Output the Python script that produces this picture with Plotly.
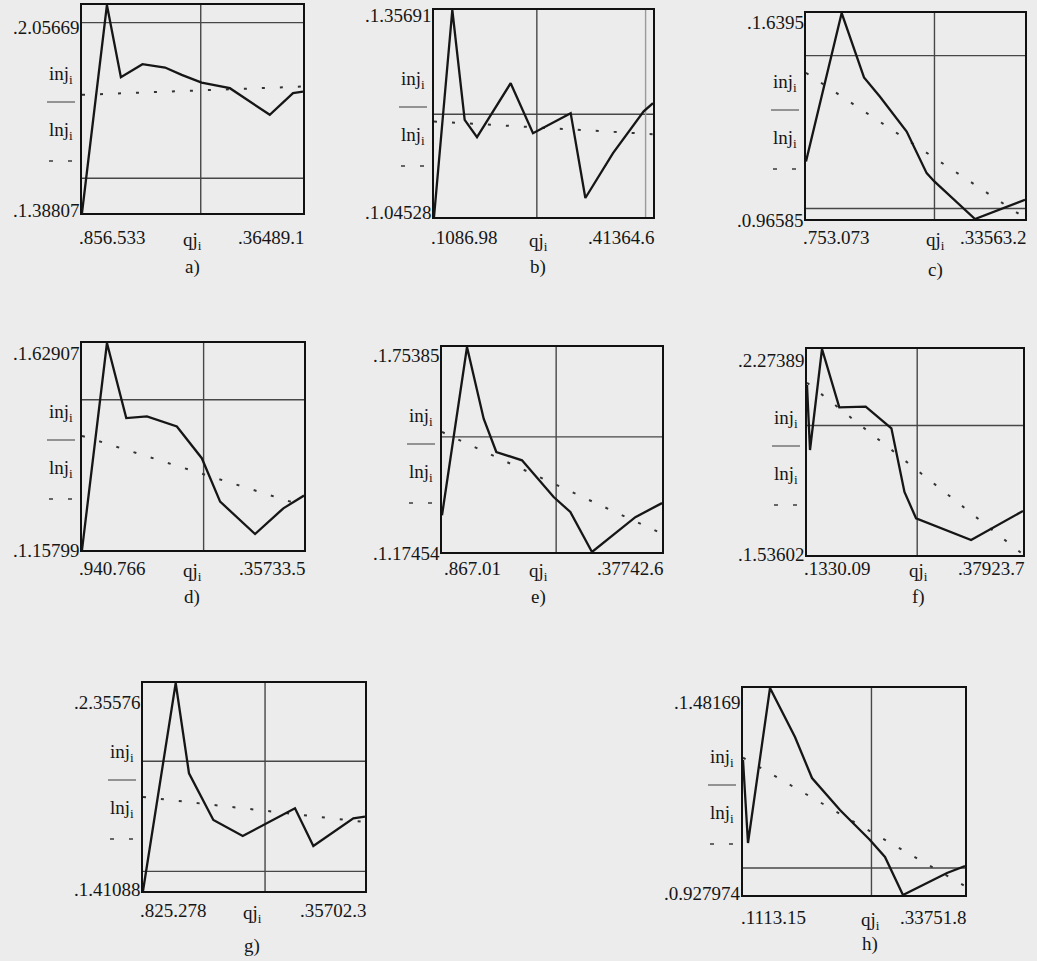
import plotly.graph_objects as go

W, H = 1037, 961

# ---------------- data ----------------
# a)
Q_A = [856.533, 4875, 7125, 10608, 14252, 16931, 20146, 24700, 31130, 34880, 36489.1]
INJ_A = [1.38807, 2.05669, 1.8245, 1.8663, 1.8556, 1.8320, 1.8074, 1.7893, 1.7037, 1.7732, 1.7785]
LNJ_A = [1.768, 1.7946]
YR_A = [1.38807, 2.05669]
HM_A = [2.0, 1.5]
VM_A = [20000]
LBL_A = [".2.05669", ".1.38807", ".856.533", ".36489.1", "a)"]

# b)
Q_B = [1086.98, 4459, 6727, 8996, 15188, 19296, 26224, 28922, 34010, 39651, 41364.6]
INJ_B = [1.04528, 1.35691, 1.1916, 1.1655, 1.2467, 1.1715, 1.2016, 1.0739, 1.1415, 1.2043, 1.2166]
LNJ_B = [1.1891, 1.1700]
YR_B = [1.04528, 1.35691]
HM_B = [1.2]
VM_B = [20000, 40000]
LBL_B = [".1.35691", ".1.04528", ".1086.98", ".41364.6", "b)"]

# c)
Q_C = [753.073, 6097, 9443, 11840, 15835, 18831, 19980, 26072, 33563.2]
INJ_C = [1.1538, 1.6395, 1.4287, 1.3657, 1.2517, 1.1158, 1.0887, 0.96585, 1.0289]
LNJ_C = [1.4439, 0.9692]
YR_C = [0.96585, 1.6395]
HM_C = [1.5, 1.0]
VM_C = [20000]
LBL_C = [".1.6395", ".0.96585", ".753.073", ".33563.2", "c)"]

# d)
Q_D = [940.766, 4853, 7878, 11112, 15807, 19718, 22587, 28064, 32497, 35733.5]
INJ_D = [1.15799, 1.62907, 1.4581, 1.4619, 1.4391, 1.3669, 1.2681, 1.1944, 1.2529, 1.2818]
LNJ_D = [1.4178, 1.2583]
YR_D = [1.15799, 1.62907]
HM_D = [1.5]
VM_D = [20000]
LBL_D = [".1.62907", ".1.15799", ".940.766", ".35733.5", "d)"]

# e)
Q_E = [867.01, 5057, 7851, 9974, 14276, 19584, 22377, 26009, 33272, 37742.6]
INJ_E = [1.2781, 1.75385, 1.5513, 1.4571, 1.4335, 1.3300, 1.2876, 1.17454, 1.2731, 1.3127]
LNJ_E = [1.5136, 1.2263]
YR_E = [1.17454, 1.75385]
HM_E = [1.5]
VM_E = [20000]
LBL_E = [".1.75385", ".1.17454", ".867.01", ".37742.6", "e)"]

# f)
Q_F = [1330.09, 1838, 3871, 6802, 11275, 15631, 17842, 19805, 29132, 37923.7]
INJ_F = [2.1449, 1.9121, 2.27389, 2.0651, 2.0672, 1.9898, 1.7621, 1.6675, 1.5897, 1.6936]
LNJ_F = [2.1532, 1.5382]
YR_F = [1.53602, 2.27389]
HM_F = [2.0]
VM_F = [20000]
LBL_F = [".2.27389", ".1.53602", ".1330.09", ".37923.7", "f)"]

# g)
Q_G = [825.278, 5962, 8052, 11877, 16495, 19796, 24704, 27585, 33869, 35702.3]
INJ_G = [1.41088, 2.35576, 1.9456, 1.7334, 1.6607, 1.7107, 1.7866, 1.6153, 1.7411, 1.7484]
LNJ_G = [1.8379, 1.7243]
YR_G = [1.41088, 2.35576]
HM_G = [2.0, 1.5]
VM_G = [20000]
LBL_G = [".2.35576", ".1.41088", ".825.278", ".35702.3", "g)"]

# h)
Q_H = [1113.15, 1848, 5082, 8757, 11256, 15372, 19782, 21987, 24633, 31101, 33751.8]
INJ_H = [1.2891, 1.0671, 1.48169, 1.3506, 1.2409, 1.1553, 1.0751, 1.0296, 0.927974, 0.9868, 1.0055]
LNJ_H = [1.2952, 0.9520]
YR_H = [0.927974, 1.48169]
HM_H = [1.0]
VM_H = [20000]
LBL_H = [".1.48169", ".0.927974", ".1113.15", ".33751.8", "h)"]

SERIES = [
    (Q_A, INJ_A, LNJ_A, YR_A, HM_A, VM_A, LBL_A),
    (Q_B, INJ_B, LNJ_B, YR_B, HM_B, VM_B, LBL_B),
    (Q_C, INJ_C, LNJ_C, YR_C, HM_C, VM_C, LBL_C),
    (Q_D, INJ_D, LNJ_D, YR_D, HM_D, VM_D, LBL_D),
    (Q_E, INJ_E, LNJ_E, YR_E, HM_E, VM_E, LBL_E),
    (Q_F, INJ_F, LNJ_F, YR_F, HM_F, VM_F, LBL_F),
    (Q_G, INJ_G, LNJ_G, YR_G, HM_G, VM_G, LBL_G),
    (Q_H, INJ_H, LNJ_H, YR_H, HM_H, VM_H, LBL_H),
]

# ---------------- layout (pixel placement of panels) ----------------
# box: left, top, right, bottom ; ytop label y, ybottom label y, xlabel y, qj x, letter y
BOXES = [
    ((82, 5, 303, 213), 27, 210, 237, 192, 267),
    ((434, 10, 653, 217), 16, 212, 238, 538, 267),
    ((806, 13, 1025, 219), 22, 220, 237, 935, 270),
    ((82, 343, 304, 550), 353, 550, 568, 192, 597),
    ((442, 347, 662, 552), 355, 553, 568, 538, 597),
    ((807, 349, 1023, 555), 361, 554, 568, 918, 597),
    ((143, 683, 365, 891), 702, 889, 910, 252, 946),
    ((743, 688, 965, 895), 702, 893, 917, 870, 944),
]

FONT = dict(family="Liberation Serif, Times New Roman, serif", size=19, color="#161616")
LINE_C = "#161616"


def px(x, y):
    return x / W, 1 - y / H


def clamp(v):
    return min(1.0, max(0.0, v))


fig = go.Figure()
layout = dict(
    width=W, height=H, autosize=False,
    margin=dict(l=0, r=0, t=0, b=0),
    paper_bgcolor="#ececec", plot_bgcolor="rgba(0,0,0,0)",
    showlegend=False,
)
shapes = []
annotations = []


def ann(x, y, text, xanchor="center", yanchor="middle", size=19):
    fx, fy = px(x, y)
    annotations.append(dict(x=fx, y=fy, xref="paper", yref="paper", text=text,
                            showarrow=False, xanchor=xanchor, yanchor=yanchor,
                            font=dict(FONT, size=size), borderpad=0))


for k, ((q, inj, lnj, yr, hm, vm, lbl), (box, ytop, ybot, xly, qjx, lety)) in enumerate(zip(SERIES, BOXES), start=1):
    left, top, right, bottom = box
    xa = "x" if k == 1 else f"x{k}"
    ya = "y" if k == 1 else f"y{k}"
    xkey = "xaxis" if k == 1 else f"xaxis{k}"
    ykey = "yaxis" if k == 1 else f"yaxis{k}"
    axis_common = dict(showgrid=False, zeroline=False, showticklabels=False, ticks="",
                       showline=True, mirror=True, linecolor="#111111", linewidth=2.2,
                       fixedrange=True)
    lx0, ly1 = px(left, top)
    lx1, ly0 = px(right, bottom)
    layout[xkey] = dict(axis_common, domain=[clamp(lx0), clamp(lx1)], range=[q[0], q[-1]], anchor=ya)
    layout[ykey] = dict(axis_common, domain=[clamp(ly0), clamp(ly1)], range=yr, anchor=xa)

    # marker lines
    for v in hm:
        shapes.append(dict(type="line", xref=xa, yref=ya, x0=q[0], x1=q[-1], y0=v, y1=v,
                           line=dict(color="#474747", width=1.4), layer="below"))
    for i, v in enumerate(vm):
        shapes.append(dict(type="line", xref=xa, yref=ya, x0=v, x1=v, y0=yr[0], y1=yr[1],
                           line=dict(color="#474747" if i == 0 else "#9a9a9a", width=1.4),
                           layer="below"))

    # lnj dotted
    fig.add_trace(go.Scatter(x=[q[0], q[-1]], y=lnj, mode="lines", xaxis=xa, yaxis=ya,
                             line=dict(color="#333333", width=2, dash="3px,15px"),
                             hoverinfo="skip"))
    # inj solid
    fig.add_trace(go.Scatter(x=q, y=inj, mode="lines", xaxis=xa, yaxis=ya,
                             line=dict(color=LINE_C, width=2.3), hoverinfo="skip"))

    # range labels
    ann(left - 1, ytop, lbl[0], xanchor="right")
    ann(left - 1, ybot, lbl[1], xanchor="right")
    ann(left + 30, xly, lbl[2])
    ann(right - 32, xly, lbl[3])
    ann(qjx, xly + 4, "qj<sub>i</sub>")
    ann(qjx, lety, lbl[4])

    # legend
    lx = left - 21
    ann(lx, top + 70, "inj<sub>i</sub>")
    ann(lx, top + 126, "lnj<sub>i</sub>")
    x0, y0 = px(lx - 14, top + 97)
    x1, _ = px(lx + 14, top + 97)
    shapes.append(dict(type="line", xref="paper", yref="paper", x0=x0, x1=x1, y0=y0, y1=y0,
                       line=dict(color="#3a3a3a", width=1)))
    for dx in (-12, 7):
        a0, b0 = px(lx + dx, top + 156)
        a1, _ = px(lx + dx + 4, top + 156)
        shapes.append(dict(type="line", xref="paper", yref="paper", x0=a0, x1=a1, y0=b0, y1=b0,
                           line=dict(color="#3a3a3a", width=1.5)))

layout["shapes"] = shapes
layout["annotations"] = annotations
fig.update_layout(**layout)
fig.write_html(
    "out.html",
    config={"displayModeBar": False, "staticPlot": True},
    post_script="document.body.style.margin='0';document.body.style.padding='0';"
                "document.documentElement.style.overflow='hidden';",
)
